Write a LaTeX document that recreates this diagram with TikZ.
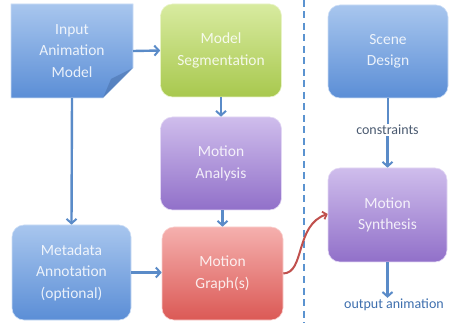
\documentclass[tikz,border=0pt]{standalone}
\usepackage{fontspec}
\setmainfont{Carlito}
\usetikzlibrary{arrows.meta}
\definecolor{bluetop}{HTML}{A8C6EE}
\definecolor{bluebot}{HTML}{5B8ED6}
\definecolor{greentop}{HTML}{D8EBA0}
\definecolor{greenbot}{HTML}{A8C84E}
\definecolor{purptop}{HTML}{CFBDEC}
\definecolor{purpbot}{HTML}{9170C9}
\definecolor{redtop}{HTML}{F5B0AE}
\definecolor{redbot}{HTML}{DB5955}
\definecolor{arrowblue}{HTML}{5A8BC8}
\definecolor{dashblue}{HTML}{5B93D0}
\definecolor{curvered}{HTML}{C0504D}
\definecolor{lblgrey}{HTML}{4A5A70}
\definecolor{lblblue}{HTML}{3E6FAE}
\tikzset{
  box/.style={rounded corners=12pt, minimum width=121pt, minimum height=93pt,
    align=center, text=white, text opacity=0.85, inner sep=0pt,
    font=\fontsize{15.5}{21.5}\selectfont},
  bluebox/.style={box, top color=bluetop, bottom color=bluebot, draw=bluetop!60!white, line width=0.6pt},
  greenbox/.style={box, top color=greentop, bottom color=greenbot, draw=greentop!60!white, line width=0.6pt},
  purpbox/.style={box, top color=purptop, bottom color=purpbot, draw=purptop!60!white, line width=0.6pt},
  redbox/.style={box, top color=redtop, bottom color=redbot, draw=redtop!60!white, line width=0.6pt},
  flow/.style={draw=arrowblue, line width=2.4pt, -{Straight Barb[length=4.5pt,width=10pt,line width=2pt]}},
  plainflow/.style={draw=arrowblue, line width=2.4pt},
  lbl/.style={font=\fontsize{14}{16}\selectfont, inner sep=1pt}
}
\begin{document}
\begin{tikzpicture}[x=1pt,y=-1pt]
\useasboundingbox (0,0) rectangle (458,323);
% folded-corner input shape
\shade[top color=bluetop, bottom color=bluebot, draw=bluetop!60!white, line width=0.6pt]
  (11,4) -- (133,4) -- (133,68) -- (103,98) -- (11,98) -- cycle;
\fill[bluebot!80!black, opacity=0.55] (103,98) -- (133,68) -- (111,79) -- cycle;
\node[box, minimum width=122pt, minimum height=94pt] (inp) at (72,51) {Input\\Animation\\Model};
\node[greenbox] (seg) at (221,50.5) {Model\\Segmentation};
\node[purpbox] (ana) at (221,163.5) {Motion\\Analysis};
\node[redbox] (graph) at (222.5,273.5) {Motion\\Graph(s)};
\node[bluebox, minimum width=119pt, minimum height=95pt] (meta) at (71.5,272.5) {Metadata\\Annotation\\(optional)};
\node[bluebox, minimum width=120pt] (scene) at (388,51.5) {Scene\\Design};
\node[purpbox, minimum width=119pt, minimum height=94pt] (synth) at (387.5,215) {Motion\\Synthesis};
\node[lbl, text=lblgrey] (cons) at (387.5,130) {constraints};
\node[lbl, text=lblblue] (out) at (394,305) {output animation};
\coordinate (dtop) at (304,0);
\coordinate (dbot) at (304,323);
\draw[dashblue, line width=2.8pt, dash pattern=on 7pt off 4.5pt] (dtop) -- (dbot);
% connectors
\draw[flow] (inp.east) -- (seg.west);
\draw[flow] (seg.south) -- (ana.north);
\draw[flow] (ana.south -| graph.north) -- (graph.north);
\draw[flow] (inp.south) -- (meta.north);
\draw[flow] (meta.east) -- (meta.east -| graph.west);
\draw[plainflow] (scene.south) -- (scene.south |- cons.north);
\draw[flow] (synth.north |- cons.south) -- (synth.north);
\draw[flow] (synth.south) -- (synth.south |- out.north);
\draw[curvered, line width=2pt, -{Straight Barb[length=3.5pt,width=8pt,line width=1.8pt]}]
  (graph.east) .. controls (305,273) and (295,225) .. (synth.west |- 0,214);
\end{tikzpicture}
\end{document}
